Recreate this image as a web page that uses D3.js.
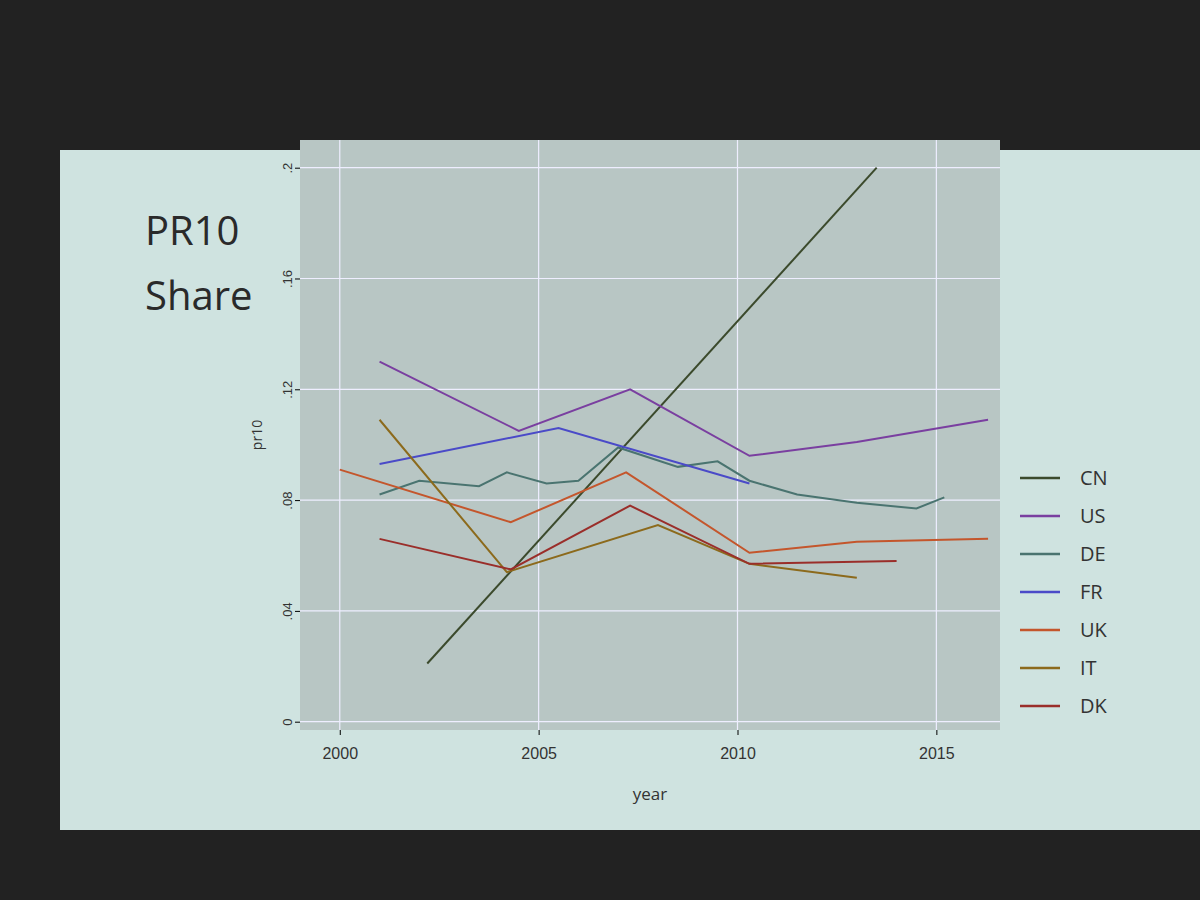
<!DOCTYPE html>
<html><head><meta charset="utf-8">
<script src="https://cdn.jsdelivr.net/npm/d3@7"></script>
<style>body{margin:0;background:#222;font-family:"Open Sans",sans-serif}</style>
</head><body><svg id="c" width="1200" height="900"></svg>
<script>
const seriesNames = ["CN","US","DE","FR","UK","IT","DK"];
const seriesColors = ["#3b4a2c","#7a3fa0","#4a7470","#4a4ac8","#c4562c","#8c6a1c","#9a2e2a"];
const CN = [[2002.2,0.021],[2013.5,0.2]];
const US = [[2001,0.13],[2004.5,0.105],[2007.3,0.12],[2010.3,0.096],[2013,0.101],[2016.3,0.109]];
const DE = [[2001,0.082],[2002,0.087],[2003.5,0.085],[2004.2,0.09],[2005.2,0.086],[2006,0.087],[2007,0.099],[2008.5,0.092],[2009.5,0.094],[2010.3,0.087],[2011.5,0.082],[2013,0.079],[2014.5,0.077],[2015.2,0.081]];
const FR = [[2001,0.093],[2005.5,0.106],[2010.3,0.086]];
const UK = [[2000,0.091],[2004.3,0.072],[2007.2,0.09],[2010.3,0.061],[2013,0.065],[2016.3,0.066]];
const IT = [[2001,0.109],[2004.2,0.054],[2008,0.071],[2010.3,0.057],[2013,0.052]];
const DK = [[2001,0.066],[2004.3,0.055],[2007.3,0.078],[2010.3,0.057],[2014,0.058]];
const allSeries = [CN,US,DE,FR,UK,IT,DK];
const yTicks = [0,0.04,0.08,0.12,0.16,0.2];
const yTickLabels = ["0",".04",".08",".12",".16",".2"];
const xTicks = [2000,2005,2010,2015];

const svg = d3.select("#c");
svg.append("rect").attr("x",60).attr("y",150).attr("width",1140).attr("height",680).attr("fill","#cfe3e0");
svg.append("text").attr("x",145).attr("y",245).attr("font-size",40).attr("fill","#2a2a2a").text("PR10");
svg.append("text").attr("x",145).attr("y",310).attr("font-size",40).attr("fill","#2a2a2a").text("Share");

const m = {l:300,r:1000,t:140,b:730};
const x = d3.scaleLinear().domain([1999,2016.6]).range([m.l,m.r]);
const y = d3.scaleLinear().domain([-0.003,0.21]).range([m.b,m.t]);
svg.append("rect").attr("x",m.l).attr("y",m.t).attr("width",m.r-m.l).attr("height",m.b-m.t).attr("fill","#b8c6c4");
const g = svg.append("g");
g.selectAll(".hy").data(yTicks).join("line").attr("x1",m.l).attr("x2",m.r).attr("y1",d=>y(d)).attr("y2",d=>y(d)).attr("stroke","#eef").attr("stroke-width",1.2);
g.selectAll(".vx").data(xTicks).join("line").attr("y1",m.t).attr("y2",m.b).attr("x1",d=>x(d)).attr("x2",d=>x(d)).attr("stroke","#eef").attr("stroke-width",1.2);
const ya = svg.append("g").attr("transform",`translate(${m.l},0)`).call(d3.axisLeft(y).tickValues(yTicks).tickFormat((d,i)=>yTickLabels[i]).tickSize(5));
ya.selectAll("text").attr("font-size",13).attr("fill","#333").attr("transform","rotate(-90)").attr("x",0).attr("dy","-0.6em").attr("dx","0").style("text-anchor","middle");
ya.select(".domain").remove();
const xa = svg.append("g").attr("transform",`translate(0,${m.b})`).call(d3.axisBottom(x).tickValues(xTicks).tickFormat(d3.format("d")).tickSize(5));
xa.selectAll("text").attr("font-size",16).attr("fill","#333").attr("dy","1.3em");
xa.select(".domain").remove();
svg.append("text").attr("x",(m.l+m.r)/2).attr("y",800).attr("text-anchor","middle").attr("font-size",17).attr("fill","#333").text("year");
svg.append("text").attr("transform",`translate(262,${(m.t+m.b)/2}) rotate(-90)`).attr("text-anchor","middle").attr("font-size",14).attr("fill","#333").text("pr10");

const line = d3.line().x(d=>x(d[0])).y(d=>y(d[1]));
allSeries.forEach((s,i)=>{
  svg.append("path").attr("d",line(s)).attr("fill","none").attr("stroke",seriesColors[i]).attr("stroke-width",2);
});
const lg = svg.append("g").attr("transform","translate(1020,478)");
seriesNames.forEach((n,i)=>{
  lg.append("line").attr("x1",0).attr("x2",40).attr("y1",i*38).attr("y2",i*38).attr("stroke",seriesColors[i]).attr("stroke-width",2.5);
  lg.append("text").attr("x",60).attr("y",i*38+7).attr("font-size",20).attr("fill","#333").text(n);
});
</script></body></html>
